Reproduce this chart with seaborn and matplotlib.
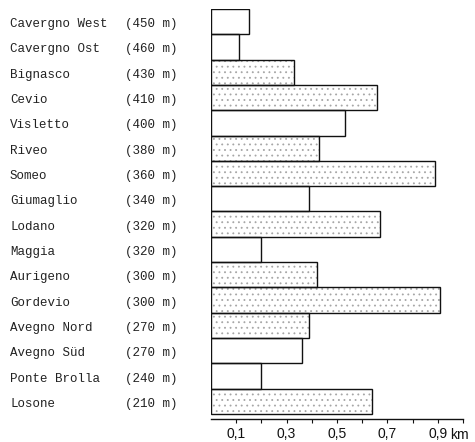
import matplotlib
matplotlib.use("Agg")
import matplotlib.pyplot as plt
import matplotlib.transforms as mtransforms
import numpy as np
import pandas as pd
import seaborn as sns

# Orte, Höhe und Länge (km)
places = ["Cavergno West", "Cavergno Ost", "Bignasco", "Cevio", "Visletto",
          "Riveo", "Someo", "Giumaglio", "Lodano", "Maggia", "Aurigeno",
          "Gordevio", "Avegno Nord", "Avegno Süd", "Ponte Brolla", "Losone"]
elevations = [450, 460, 430, 410, 400, 380, 360, 340, 320, 320, 300, 300,
              270, 270, 240, 210]
lengths = [0.15, 0.11, 0.33, 0.66, 0.53, 0.43, 0.89, 0.39, 0.67, 0.20, 0.42,
           0.91, 0.39, 0.36, 0.20, 0.64]
stippled = [False, False, True, True, False, True, True, False, True, False,
            True, True, True, False, False, True]
xticks = [0.1, 0.2, 0.3, 0.4, 0.5, 0.6, 0.7, 0.8, 0.9, 1.0]
xticklabels = ["0,1", "", "0,3", "", "0,5", "", "0,7", "", "0,9", ""]

df = pd.DataFrame({"place": places, "elev": elevations, "length": lengths,
                   "stippled": stippled})

sns.set_style("white")
plt.rcParams["hatch.linewidth"] = 0.6

fig = plt.figure(figsize=(4.75, 4.42), dpi=100)
ax = fig.add_axes([211 / 475, 1 - 419 / 442, 252 / 475, 410 / 442])

# Punktraster
sns.barplot(data=df, x="length", y="place", orient="h", color="white",
            width=1.0, edgecolor="#a6a6a6", linewidth=0, saturation=1, ax=ax)
for patch, s in zip(ax.patches, df["stippled"]):
    if s:
        patch.set_hatch("...")
n = len(ax.patches)

# Umrisse
sns.barplot(data=df, x="length", y="place", orient="h", color="white",
            width=1.0, edgecolor="#111111", linewidth=1.0, saturation=1, ax=ax)
for patch in ax.patches[n:]:
    patch.set_facecolor("none")

ax.set_xlim(0, 1.0)
ax.set_ylim(len(df) - 0.3, -0.5)
ax.set_xlabel("")
ax.set_ylabel("")
ax.set_yticks([])
ax.set_xticks(xticks)
ax.set_xticklabels(xticklabels, fontsize=10, family="Liberation Sans")
ax.tick_params(axis="x", direction="out", length=3, width=0.8, pad=3,
               bottom=True, colors="#111111")
for side in ["top", "right", "left"]:
    ax.spines[side].set_visible(False)
ax.spines["bottom"].set_linewidth(1.0)
ax.spines["bottom"].set_color("#111111")
ax.text(0.948, -0.022, "km", transform=ax.transAxes, ha="left", va="top",
        fontsize=10, family="Liberation Sans", color="#111111")

trans = mtransforms.blended_transform_factory(fig.transFigure, ax.transData)
for i, row in df.iterrows():
    ax.text(10 / 475, i + 0.1, row["place"], transform=trans, ha="left",
            va="center", fontsize=9, family="Liberation Mono", color="#222222")
    ax.text(125 / 475, i + 0.1, f"({row['elev']} m)", transform=trans,
            ha="left", va="center", fontsize=9, family="Liberation Mono",
            color="#222222")

fig.savefig("out.png", dpi=100)
